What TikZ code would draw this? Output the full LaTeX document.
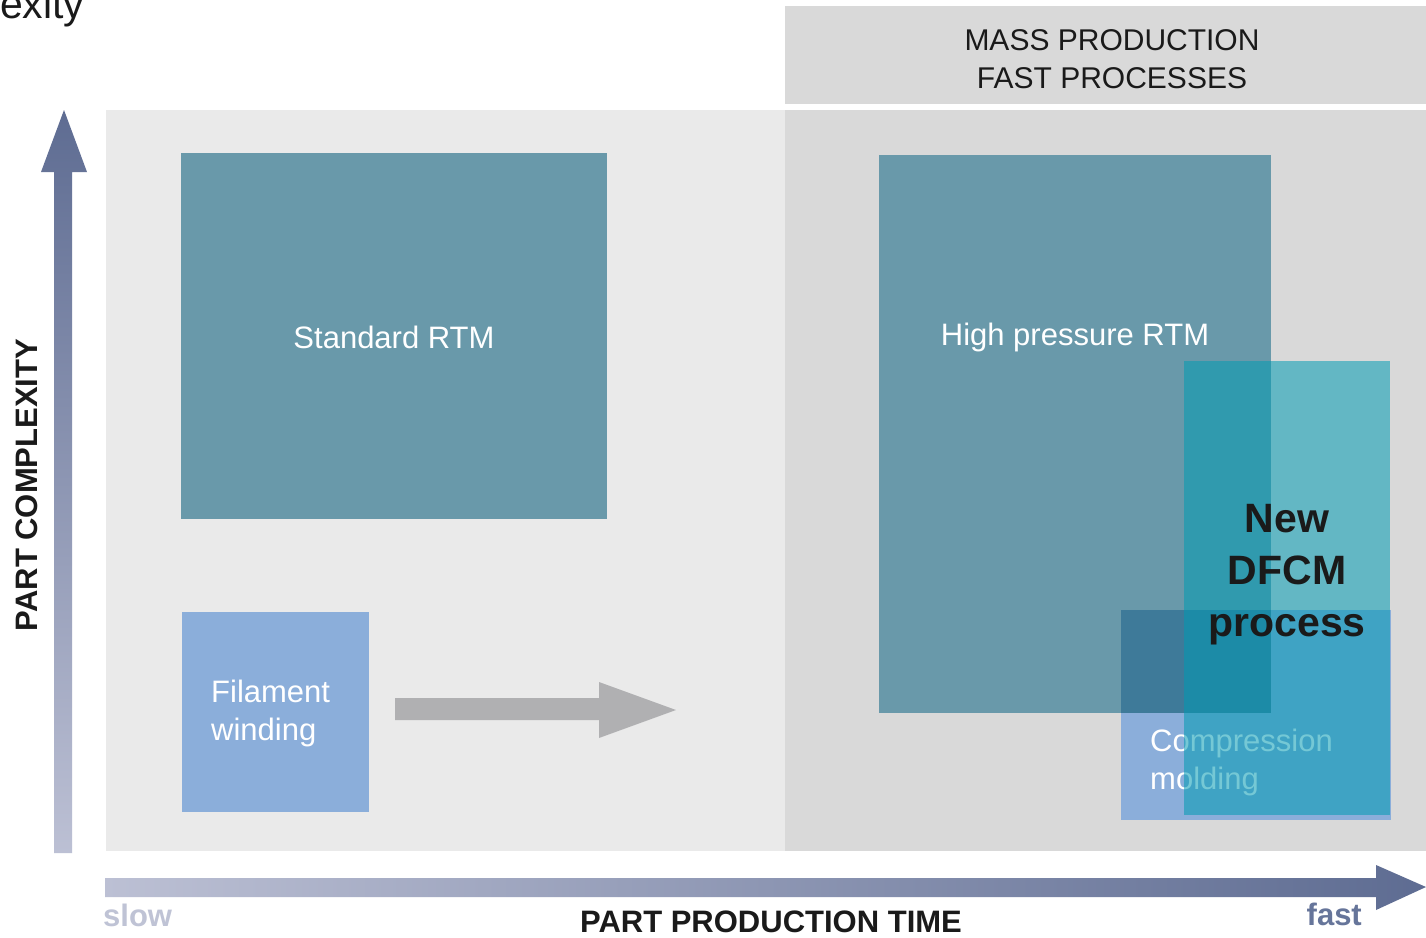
\documentclass[tikz,border=0pt]{standalone}
\usepackage{fontspec}
\setmainfont{Liberation Sans}
\definecolor{bgL}{HTML}{EAEAEA}
\definecolor{bgR}{HTML}{D9D9D9}
\definecolor{rtm}{HTML}{6999AA}
\definecolor{lblue}{HTML}{8BAEDA}
\definecolor{ovl}{HTML}{3E7A99}
\definecolor{dfcm}{RGB}{0,155,179}
\definecolor{garrow}{HTML}{B0B0B2}
\definecolor{axdark}{HTML}{5E6C92}
\definecolor{axlight}{HTML}{BCC0D4}
\definecolor{slowc}{HTML}{BFC3D5}
\definecolor{fastc}{HTML}{66759A}
\definecolor{ink}{HTML}{1A1A1A}
\begin{document}
\begin{tikzpicture}[x=1pt,y=-1pt,
  panel/.style={draw=none, inner sep=0pt, outer sep=0pt, anchor=north west},
  lbl/.style={text=white, inner sep=0pt, font=\fontsize{31}{38}\selectfont},
  axlbl/.style={inner sep=0pt, font=\fontsize{31}{38}\selectfont\bfseries}]
\useasboundingbox (0,0) rectangle (1426,937);
\fill[white] (0,0) rectangle (1426,937);
% cut-off title text
\node[anchor=base west, inner sep=0pt, text=ink, font=\fontsize{41}{44}\selectfont] (title) at (0,18) {exity};
% background panels
\node[panel, fill=bgL, minimum width=679, minimum height=741] (left) at (106,110) {};
\node[panel, fill=bgR, minimum width=641, minimum height=741] (right) at (785,110) {};
\node[panel, fill=bgR, minimum width=641, minimum height=98] (head) at (785,6) {};
\node[align=center, inner sep=0pt, text=ink, font=\fontsize{30}{38}\selectfont] (headtxt) at (1112,59) {MASS PRODUCTION\\FAST PROCESSES};
% boxes
\node[panel, fill=rtm, minimum width=426, minimum height=366] (srtm) at (181,153) {};
\node[lbl] (srtmtxt) at (394,337) {Standard RTM};
\node[panel, fill=lblue, minimum width=187, minimum height=200] (fil) at (182,612) {};
\node[lbl, align=left, anchor=west] (filtxt) at (211,713) {Filament\\winding};
\fill[garrow] (395,698) -- (599,698) -- (599,682) -- (676,710) -- (599,738) -- (599,720) -- (395,720) -- cycle;
\node[panel, fill=rtm, minimum width=392, minimum height=558] (hrtm) at (879,155) {};
\node[lbl] (hrtmtxt) at (1075,337) {High pressure RTM};
\node[panel, fill=lblue, minimum width=270, minimum height=210] (cm) at (1121,610) {};
\node[panel, fill=ovl, minimum width=150, minimum height=103] (ov) at (1121,610) {};
\node[lbl, align=left, anchor=west] (cmtxt) at (1150,762) {Compression\\molding};
\node[panel, fill=dfcm, fill opacity=0.54, minimum width=206, minimum height=454] (dfcm) at (1184,361) {};
\node[align=center, inner sep=0pt, text=ink, font=\fontsize{41}{52}\selectfont\bfseries] (dfcmtxt) at (1287,575) {New\\DFCM\\process};
% axes
\shade[top color=axdark, bottom color=axlight] (54,853) -- (54,172) -- (41,172) -- (64,110) -- (87,172) -- (72,172) -- (72,853) -- cycle;
\shade[left color=axlight, right color=axdark] (105,878) -- (1376,878) -- (1376,865) -- (1426,887) -- (1376,910) -- (1376,897) -- (105,897) -- cycle;
\node[axlbl, rotate=90, text=ink] (ylbl) at (27,485) {PART COMPLEXITY};
\node[axlbl, text=ink] (xlbl) at (771,922) {PART PRODUCTION TIME};
\node[axlbl, text=slowc, anchor=west] (slow) at (103,915) {slow};
\node[axlbl, text=fastc, anchor=east] (fast) at (1362,914) {fast};
\end{tikzpicture}
\end{document}
